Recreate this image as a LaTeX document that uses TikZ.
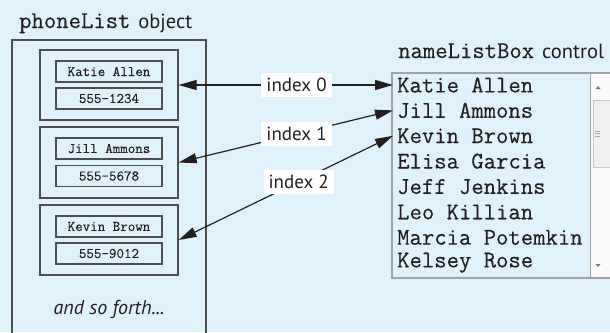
\documentclass[tikz,border=0pt]{standalone}
\usepackage{fontspec}
\setmainfont{PT Sans}
\setmonofont{Latin Modern Mono}[FakeBold=0.3]
\usetikzlibrary{arrows.meta}
\definecolor{bg}{HTML}{DFF2FC}
\definecolor{boxline}{HTML}{4D4D4D}
\definecolor{lbline}{HTML}{A3A3A3}
\definecolor{txt}{HTML}{231F20}
\tikzset{
  recbox/.style={draw=boxline, line width=1.3pt, minimum width=138pt, minimum height=70pt, inner sep=0pt},
  fieldbox/.style={draw=boxline, line width=1.3pt, minimum width=106pt, minimum height=21pt, inner sep=0pt, font=\fontsize{14.6}{15}\selectfont\ttfamily, text=txt},
  item/.style={anchor=west, inner xsep=4pt, inner ysep=0pt, font=\fontsize{24}{25}\selectfont\ttfamily, text=txt},
  idx/.style={fill=white, inner xsep=5pt, inner ysep=2pt, minimum height=24pt, font=\fontsize{19}{20}\selectfont, text=txt},
  link/.style={draw=txt, line width=1.2pt, {Triangle[length=18pt,width=10pt]}-{Triangle[length=18pt,width=10pt]}},
  title/.style={anchor=base west, inner sep=0pt, text=txt}
}
\begin{document}
\begin{tikzpicture}[x=1pt,y=-1pt]
\useasboundingbox[fill=bg] (0,0) rectangle (610,332);
% phoneList object
\node[title] (t1) at (19,28) {\fontsize{24}{25}\selectfont\ttfamily phoneList\hspace{8pt}\rmfamily\fontsize{20.5}{22}\selectfont object};
\draw[boxline, line width=1.3pt] (12,340) -- (12,40) -- (206,40) -- (206,340);
\node[recbox] (rec1) at (109,85) {};
\node[recbox, minimum height=71pt] (rec2) at (109,162.5) {};
\node[recbox] (rec3) at (109,240) {};
\node[fieldbox] (n1) at (109,71.5) {Katie Allen};
\node[fieldbox] (p1) at (109,98.5) {555-1234};
\node[fieldbox] (n2) at (109,148.5) {Jill Ammons};
\node[fieldbox] (p2) at (109,176) {555-5678};
\node[fieldbox] (n3) at (109,226.5) {Kevin Brown};
\node[fieldbox] (p3) at (109,253.5) {555-9012};
\node[text=txt, font=\fontsize{20}{22}\selectfont\itshape] (more) at (109,309) {and so forth...};
% list box
\node[title] (t2) at (398,58) {\fontsize{24}{25}\selectfont\ttfamily nameListBox\hspace{8pt}\rmfamily\fontsize{20.5}{22}\selectfont control};
\path[fill=bg] (392,73) rectangle (612,278);
\path[fill=white!60!gray!10] (590,74) rectangle (612,277);
\draw[lbline, line width=0.6pt] (590,74) -- (590,277);
\draw[fill=gray!12, draw=gray!45, line width=0.6pt] (593,100) rectangle (612,167);
\draw[gray!70, line width=0.5pt] (595,131) -- (600,131) (595,133.5) -- (600,133.5) (595,136) -- (600,136);
\fill[gray!90!black] (595.5,89) -- (600.5,89) -- (598,86) -- cycle;
\fill[gray!90!black] (595.5,264) -- (600.5,264) -- (598,267) -- cycle;
\draw[lbline, line width=1.2pt] (612,73) -- (392,73) -- (392,278) -- (612,278);
\node[item] (i1) at (393,85) {Katie Allen};
\node[item] (i2) at (393,110.4) {Jill Ammons};
\node[item] (i3) at (393,135.8) {Kevin Brown};
\node[item] (i4) at (393,161.2) {Elisa Garcia};
\node[item] (i5) at (393,186.6) {Jeff Jenkins};
\node[item] (i6) at (393,212) {Leo Killian};
\node[item] (i7) at (393,237.4) {Marcia Potemkin};
\node[item] (i8) at (393,262.8) {Kelsey Rose};
% links
\draw[link] (rec1.east) -- node[idx, pos=0.55] (x0) {index 0} (i1.west);
\draw[link] (rec2.east) -- node[idx, pos=0.55] (x1) {index 1} (i2.west);
\draw[link] (rec3.east) -- node[idx, pos=0.56] (x2) {index 2} (i3.west);
\end{tikzpicture}
\end{document}
